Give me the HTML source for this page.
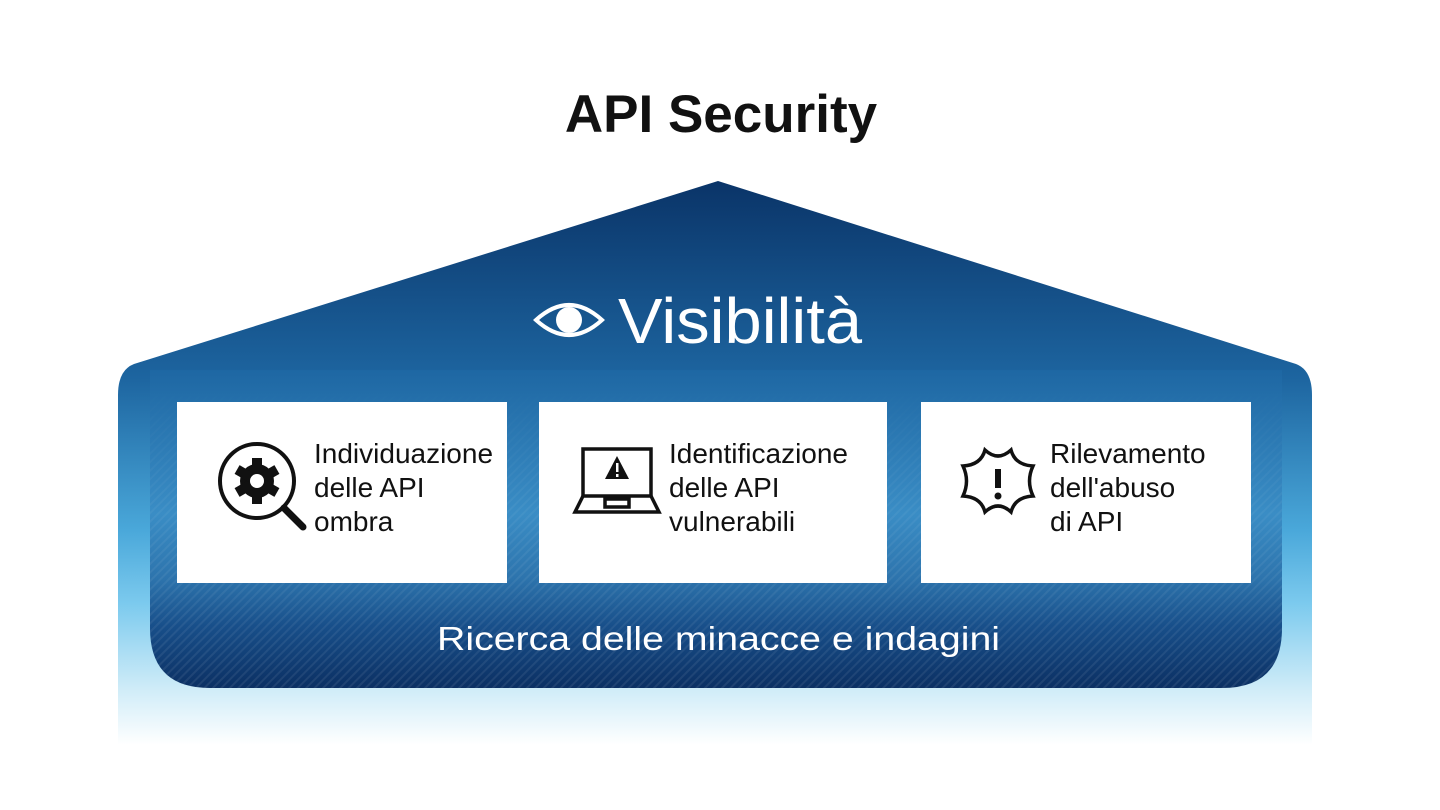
<!DOCTYPE html>
<html><head><meta charset="utf-8"><style>
html,body{margin:0;padding:0;background:#fff;}
svg{display:block}
.t{font-family:"Liberation Sans",sans-serif;font-size:28px;fill:#111}
</style></head><body>
<svg width="1440" height="810" viewBox="0 0 1440 810" xmlns="http://www.w3.org/2000/svg">
<defs>
<linearGradient id="outer" x1="0" y1="181" x2="0" y2="745" gradientUnits="userSpaceOnUse">
<stop offset="0" stop-color="#0a3468"/>
<stop offset="0.35" stop-color="#1d65a0"/>
<stop offset="0.62" stop-color="#4aa8da"/>
<stop offset="0.75" stop-color="#7ccaee"/>
<stop offset="0.9" stop-color="#cfecf8"/>
<stop offset="1" stop-color="#ffffff"/>
</linearGradient>
<linearGradient id="inner" x1="0" y1="370" x2="0" y2="690" gradientUnits="userSpaceOnUse">
<stop offset="0" stop-color="#1e67a3"/>
<stop offset="0.45" stop-color="#3a8dc5"/>
<stop offset="0.65" stop-color="#2d74ad"/>
<stop offset="0.8" stop-color="#184f8a"/>
<stop offset="1" stop-color="#0b2f62"/>
</linearGradient>
<linearGradient id="fadeG" x1="0" y1="380" x2="0" y2="690" gradientUnits="userSpaceOnUse">
<stop offset="0" stop-color="#fff" stop-opacity="0"/>
<stop offset="0.4" stop-color="#fff" stop-opacity="0.6"/>
<stop offset="1" stop-color="#fff" stop-opacity="1"/>
</linearGradient>
<mask id="fm"><rect x="0" y="0" width="1440" height="810" fill="url(#fadeG)"/></mask>
<pattern id="str" width="6" height="6" patternUnits="userSpaceOnUse" patternTransform="rotate(45)">
<rect width="2" height="6" fill="#ffffff" opacity="0.08"/>
</pattern>
</defs>
<text x="721" y="132" text-anchor="middle" font-family="Liberation Sans,sans-serif" font-weight="bold" font-size="53" fill="#111">API Security</text>
<path d="M718,181 L1296,364 Q1312,370 1312,395 L1312,745 L118,745 L118,395 Q118,370 134,364 Z" fill="url(#outer)"/>
<path d="M150,370 L1282,370 L1282,628 Q1282,688 1222,688 L210,688 Q150,688 150,628 Z" fill="url(#inner)"/>
<path d="M150,380 L1282,380 L1282,628 Q1282,688 1222,688 L210,688 Q150,688 150,628 Z" fill="url(#str)" mask="url(#fm)"/>
<!-- eye -->
<g transform="translate(569,320)">
<path d="M-33,0 Q0,-30 33,0 Q0,30 -33,0 Z" fill="none" stroke="#fff" stroke-width="4"/>
<circle r="13" fill="#fff"/>
</g>
<text x="618" y="343" font-family="Liberation Sans,sans-serif" font-size="64" fill="#fff" textLength="244" lengthAdjust="spacingAndGlyphs">Visibilità</text>
<rect x="177" y="402" width="330" height="181" fill="#fff"/>
<rect x="539" y="402" width="348" height="181" fill="#fff"/>
<rect x="921" y="402" width="330" height="181" fill="#fff"/>
<!-- icon1 -->
<g transform="translate(257,481)">
<circle r="37" fill="none" stroke="#111" stroke-width="4"/>
<line x1="27" y1="27" x2="46" y2="46" stroke="#111" stroke-width="7" stroke-linecap="round"/>
<circle r="17" fill="#111"/>
<g fill="#111"><rect x="-5" y="-23" width="10" height="46"/><rect x="-5" y="-23" width="10" height="46" transform="rotate(60)"/><rect x="-5" y="-23" width="10" height="46" transform="rotate(120)"/></g>
<circle r="7" fill="#fff"/>
</g>
<text class="t"><tspan x="314" y="463">Individuazione</tspan><tspan x="314" y="497">delle API</tspan><tspan x="314" y="531">ombra</tspan></text>
<!-- icon2 laptop -->
<g fill="none" stroke="#111" stroke-width="3.5">
<rect x="583" y="449" width="68" height="47"/>
<path d="M583,496 L575,512 L659,512 L651,496"/>
<rect x="605" y="499" width="24" height="8"/>
</g>
<path d="M617,456 L629,479 L605,479 Z" fill="#111"/>
<rect x="616" y="463" width="2.5" height="9" fill="#fff"/><rect x="616" y="474" width="2.5" height="3" fill="#fff"/>
<text class="t"><tspan x="669" y="463">Identificazione</tspan><tspan x="669" y="497">delle API</tspan><tspan x="669" y="531">vulnerabili</tspan></text>
<!-- icon3 -->
<path d="M985,450 Q998,462 1011,450 Q1015,465 1033,466 Q1026,481 1033,496 Q1015,497 1011,512 Q998,500 985,512 Q981,497 963,496 Q970,481 963,466 Q981,465 985,450 Z" fill="none" stroke="#111" stroke-width="3.5"/>
<rect x="995" y="469" width="6" height="19" fill="#111"/><circle cx="998" cy="496" r="3.5" fill="#111"/>
<text class="t"><tspan x="1050" y="463">Rilevamento</tspan><tspan x="1050" y="497">dell'abuso</tspan><tspan x="1050" y="531">di API</tspan></text>
<text x="437" y="650" font-family="Liberation Sans,sans-serif" font-size="33" fill="#fff" textLength="563" lengthAdjust="spacingAndGlyphs">Ricerca delle minacce e indagini</text>
</svg>
</body></html>
